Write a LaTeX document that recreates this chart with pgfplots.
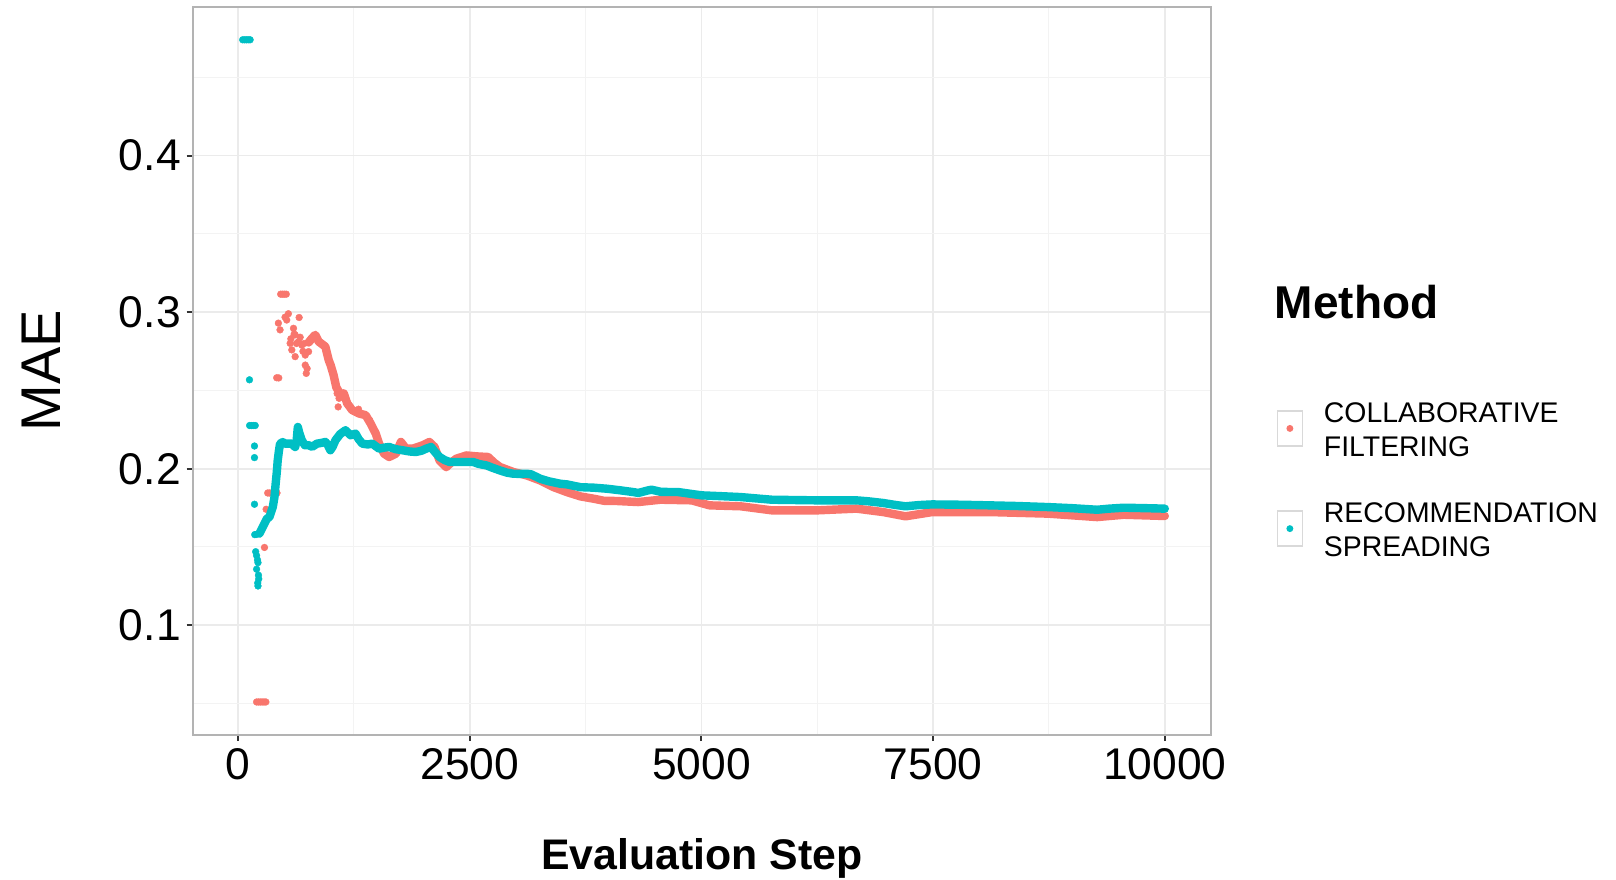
\documentclass[border=0pt]{standalone}
\usepackage{fontspec}
\setmainfont{Liberation Sans}
\usepackage{pgfplots}
\pgfplotsset{compat=1.18}
\definecolor{cf}{HTML}{F8766D}
\definecolor{rs}{HTML}{00BFC4}
\definecolor{gridmaj}{HTML}{EBEBEB}
\definecolor{gridmin}{HTML}{F3F3F3}
\definecolor{frame}{HTML}{B3B3B3}
\definecolor{tickc}{HTML}{333333}
\definecolor{keyframe}{HTML}{D9D9D9}
\newcommand\twoline[2]{\begin{tabular}{@{}l@{}}#1\\#2\end{tabular}}

\begin{document}
\begin{tikzpicture}
\useasboundingbox (-48.175pt,-36pt) rectangle (355.825pt,183.75pt);
\begin{axis}[
  scale only axis, width=254.6pt, height=182.1pt,
  xmin=-489.5, xmax=10499.5, ymin=0.0299, ymax=0.4952,
  scaled x ticks=false, scaled y ticks=false,
  xtick={0,2500,5000,7500,10000}, xticklabels={0,2500,5000,7500,10000},
  ytick={0.1,0.2,0.3,0.4}, yticklabels={0.1,0.2,0.3,0.4},
  minor xtick={1250,3750,6250,8750},
  minor ytick={0.05,0.15,0.25,0.35,0.45},
  grid=both,
  major grid style={gridmaj, line width=0.4pt},
  minor grid style={gridmin, line width=0.25pt},
  tick align=outside, tick pos=left,
  major tick length=1.5pt, minor tick length=0pt,
  tick style={tickc, line width=0.5pt},
  axis line style={frame, line width=0.5pt},
  clip mode=individual,
  ticklabel style={font=\fontsize{11.1}{13}\selectfont, inner sep=0pt},
  yticklabel style={xshift=-1.3pt},
  xticklabel style={yshift=-1.7pt},
  xlabel={Evaluation Step}, ylabel={MAE},
  xlabel style={font=\fontsize{10.7}{12}\selectfont\bfseries,
    at={(axis description cs:0.5,-0.1853)}, anchor=base},
  ylabel style={font=\fontsize{14}{16}\selectfont,
    at={(axis description cs:-0.1303,0.5)}, anchor=base},
  legend style={at={(axis description cs:1.0635,0.4622)}, anchor=north west,
    draw=none, fill=none, inner sep=0pt, row sep=8.3pt, column sep=5.2pt,
    font=\fontsize{7.1}{8.375}\selectfont,
    nodes={inner sep=0pt, text depth=}},
  legend cell align=left,
]
% collaborative filtering: scattered early values
\addplot[forget plot, color=cf, only marks, mark=*, mark size=0.85pt, mark options={line width=0.1pt}] coordinates {
  (200,0.051)(220,0.051)(240,0.051)(260,0.051)(280,0.051)(300,0.051)
  (285,0.1497)(303,0.1741)
  (320,0.1845)(340,0.1845)(360,0.1845)(380,0.1845)(400,0.1845)(420,0.1845)
  (417,0.2581)(439,0.2580)(435,0.2930)(453,0.2887)
  (460,0.3115)(480,0.3115)(500,0.3115)(520,0.3115)
  (507,0.2968)(525,0.2950)(543,0.2990)
  (562,0.2801)(570,0.2830)(580,0.2759)(598,0.2897)(605,0.2860)(616,0.2855)
  (616,0.2716)(630,0.2800)(652,0.2812)(659,0.2966)(670,0.2840)(688,0.2790)
  (700,0.2750)(712,0.2800)(725,0.2726)(725,0.2662)(736,0.2609)
  (745,0.2640)(761,0.2748)(780,0.2820)
  (1069,0.2481)(1080,0.2395)(1090,0.2450)(1300,0.2380)(1420,0.2310)
  (1500,0.2200)(1550,0.2120)
};
% collaborative filtering: dense band
\addplot[forget plot, cf, line width=2.1pt, line join=round, line cap=round] coordinates {
  (761,0.2806)(800,0.2835)(833,0.2855)(870,0.2812)(942,0.2780)(978,0.2694)
  (1000,0.2660)(1030,0.2600)(1060,0.2520)(1100,0.2480)(1141,0.2481)(1178,0.2417)
  (1232,0.2374)(1304,0.2353)(1377,0.2342)(1431,0.2288)(1486,0.2224)(1522,0.2160)
  (1576,0.2096)(1630,0.2075)(1703,0.2096)(1757,0.2171)(1812,0.2128)(1884,0.2128)
  (1993,0.2150)(2065,0.2171)(2120,0.2139)(2174,0.2053)(2246,0.2010)(2300,0.2040)
  (2355,0.2064)(2464,0.2085)(2572,0.2079)(2699,0.2075)(2760,0.2040)(2826,0.2011)
  (2971,0.1979)(3116,0.1957)(3261,0.1925)(3406,0.1882)(3551,0.1850)(3696,0.1823)
  (3841,0.1808)(3950,0.1795)(4077,0.1794)(4317,0.1787)(4558,0.1802)(4894,0.1798)
  (5087,0.1766)(5423,0.1760)(5760,0.1734)(6250,0.1734)(6673,0.1745)(6962,0.1723)
  (7202,0.1696)(7490,0.1723)(8115,0.1723)(8740,0.1713)(9269,0.1691)(9558,0.1706)
  (10000,0.1698)
};
% recommendation spreading: scattered early values
\addplot[forget plot, color=rs, only marks, mark=*, mark size=0.85pt, mark options={line width=0.1pt}] coordinates {
  (50,0.474)(70,0.474)(90,0.474)(110,0.474)(130,0.474)
  (123,0.2568)
  (125,0.2276)(145,0.2276)(165,0.2276)(185,0.2276)
  (177,0.2145)(177,0.2071)(177,0.1773)
  (180,0.1579)(195,0.1580)
  (190,0.1470)(200,0.1445)(210,0.1417)(215,0.1400)(200,0.1358)
  (220,0.1320)(223,0.1296)(215,0.1251)(212,0.1270)
};
% recommendation spreading: dense band
\addplot[forget plot, rs, line width=2.1pt, line join=round, line cap=round] coordinates {
  (230,0.1585)(260,0.1620)(285,0.1650)(310,0.1680)(339,0.1692)(360,0.1730)
  (375,0.1756)(393,0.1820)(404,0.1894)(418,0.1979)(428,0.2054)(440,0.2110)
  (453,0.2160)(482,0.2170)(507,0.2160)(555,0.2160)(580,0.2160)(616,0.2139)
  (632,0.2180)(645,0.2267)(660,0.2230)(688,0.2182)(720,0.2150)(761,0.2150)
  (800,0.2140)(851,0.2160)(900,0.2165)(942,0.2171)(970,0.2150)(996,0.2118)
  (1020,0.2140)(1051,0.2182)(1100,0.2220)(1159,0.2246)(1214,0.2214)(1268,0.2224)
  (1300,0.2190)(1341,0.2160)(1400,0.2155)(1449,0.2160)(1522,0.2128)(1580,0.2135)
  (1630,0.2139)(1700,0.2125)(1775,0.2118)(1850,0.2110)(1920,0.2107)(1980,0.2115)
  (2029,0.2128)(2083,0.2139)(2120,0.2110)(2174,0.2075)(2230,0.2055)(2283,0.2043)
  (2427,0.2043)(2536,0.2043)(2600,0.2030)(2681,0.2021)(2750,0.2005)(2826,0.1989)
  (2900,0.1975)(2971,0.1968)(3050,0.1967)(3116,0.1968)(3163,0.1964)(3261,0.1936)
  (3350,0.1920)(3478,0.1904)(3548,0.1900)(3696,0.1882)(3837,0.1879)(3985,0.1872)
  (4125,0.1862)(4275,0.1850)(4317,0.1845)(4420,0.1861)(4462,0.1866)(4565,0.1852)
  (4750,0.1851)(5000,0.1830)(5200,0.1825)(5423,0.1819)(5600,0.1810)(5760,0.1802)
  (6000,0.1800)(6250,0.1798)(6673,0.1798)(6800,0.1792)(6962,0.1781)(7100,0.1768)
  (7202,0.1760)(7350,0.1768)(7490,0.1772)(7800,0.1770)(8115,0.1766)(8400,0.1762)
  (8740,0.1755)(9000,0.1748)(9269,0.1738)(9400,0.1745)(9558,0.1751)(9800,0.1748)
  (10000,0.1745)
};
\addlegendimage{legend image code/.code={
  \draw[keyframe, fill=white, line width=0.4pt] (0pt,-3.325pt) rectangle (6.25pt,5.425pt);
  \fill[cf] (3.125pt,1.05pt) circle (0.65pt);}}
\addlegendentry{\twoline{COLLABORATIVE}{FILTERING}}
\addlegendimage{legend image code/.code={
  \draw[keyframe, fill=white, line width=0.4pt] (0pt,-3.325pt) rectangle (6.25pt,5.425pt);
  \fill[rs] (3.125pt,1.05pt) circle (0.65pt);}}
\addlegendentry{\twoline{RECOMMENDATION}{SPREADING}}
\node[anchor=base west, inner sep=0pt, font=\fontsize{11.5}{13}\selectfont\bfseries]
  at (axis description cs:1.0619,0.5724) {Method};
\end{axis}
\end{tikzpicture}
\end{document}
